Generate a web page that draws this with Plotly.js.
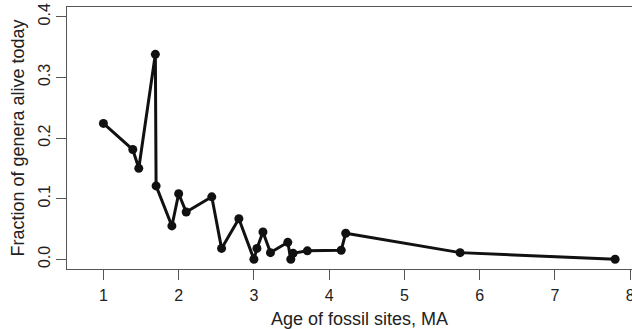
<!DOCTYPE html>
<html>
<head>
<meta charset="utf-8">
<script src="https://cdn.plot.ly/plotly-3.0.1.min.js"></script>
<style>
html,body{margin:0;padding:0;background:#fff;overflow:hidden;width:632px;height:329px;}
#chart{width:680px;height:329px;}
</style>
</head>
<body>
<div id="chart"></div>
<script>
// Data
const ages = [1.00, 1.39, 1.47, 1.69, 1.70, 1.91, 2.00, 2.10, 2.44, 2.57, 2.80, 3.00, 3.04, 3.12, 3.22, 3.45, 3.49, 3.52, 3.71, 4.16, 4.22, 5.74, 7.80];
const fractionAlive = [0.224, 0.181, 0.150, 0.338, 0.121, 0.055, 0.108, 0.078, 0.103, 0.018, 0.067, 0.000, 0.018, 0.045, 0.011, 0.028, 0.000, 0.010, 0.014, 0.015, 0.043, 0.011, 0.000];
const xTicks = [1, 2, 3, 4, 5, 6, 7, 8];
const yTicks = [0.0, 0.1, 0.2, 0.3, 0.4];
const yTickLabels = ["0.0", "0.1", "0.2", "0.3", "0.4"];

const trace = {
  x: ages,
  y: fractionAlive,
  type: 'scatter',
  mode: 'lines+markers',
  line: {color: '#111', width: 3},
  marker: {color: '#111', size: 9},
  cliponaxis: false,
  hoverinfo: 'skip'
};

const font = {family: 'Liberation Sans, Arial, sans-serif', color: '#222'};

const layout = {
  width: 680,
  height: 329,
  margin: {l: 67, r: 28, t: 7, b: 60},
  paper_bgcolor: '#fff',
  plot_bgcolor: '#fff',
  showlegend: false,
  font: font,
  xaxis: {
    range: [0.516, 8.29],
    tickvals: xTicks,
    ticktext: xTicks.map(String),
    ticks: 'outside',
    ticklen: 10,
    tickwidth: 1,
    tickcolor: '#555',
    ticklabelstandoff: 2,
    showline: true,
    linecolor: '#555',
    linewidth: 1,
    mirror: true,
    showgrid: false,
    zeroline: false,
    tickfont: {size: 16, color: '#222', family: font.family},
    title: {text: 'Age of fossil sites, MA', font: {size: 18, color: '#222', family: font.family}, standoff: 12}
  },
  yaxis: {
    range: [-0.016, 0.416],
    tickvals: yTicks,
    ticktext: yTickLabels,
    tickangle: -90,
    ticks: 'outside',
    ticklen: 10,
    tickwidth: 1,
    tickcolor: '#555',
    showline: true,
    linecolor: '#555',
    linewidth: 1,
    mirror: true,
    showgrid: false,
    zeroline: false,
    tickfont: {size: 16, color: '#222', family: font.family},
    title: {text: 'Fraction of genera alive today', font: {size: 18, color: '#222', family: font.family}, standoff: 6}
  }
};

Plotly.newPlot('chart', [trace], layout, {displayModeBar: false, staticPlot: true});
</script>
</body>
</html>
